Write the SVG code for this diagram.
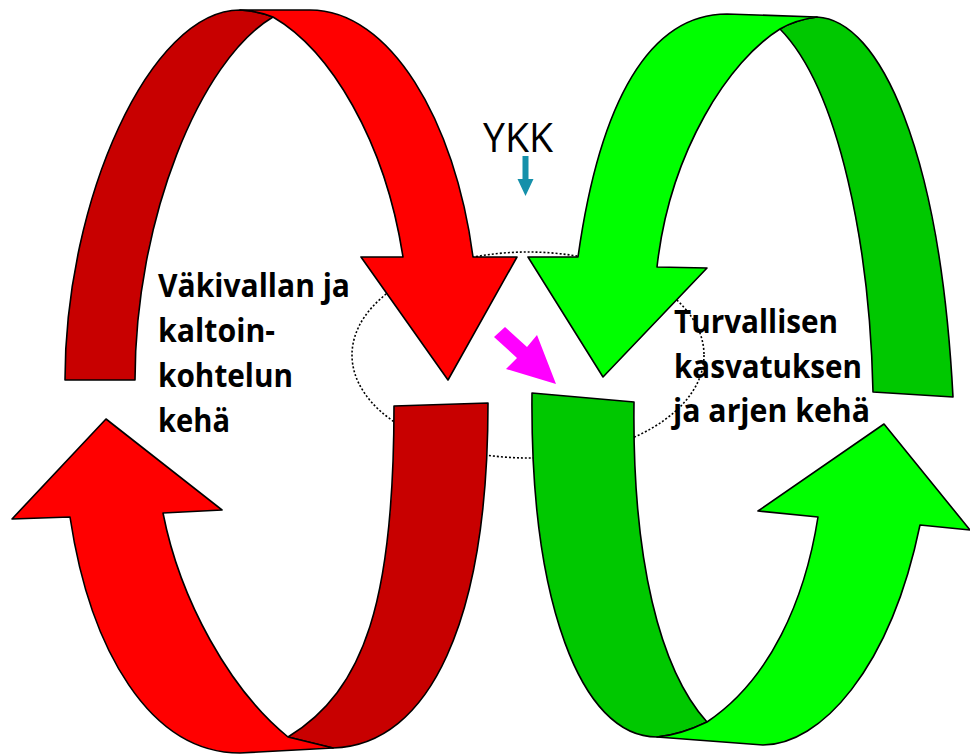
<svg xmlns="http://www.w3.org/2000/svg" width="970" height="755" viewBox="0 0 970 755">
<style>
.ol{stroke:#000;stroke-width:1.6;stroke-linejoin:round}
.r{fill:#FF0000}
.dr{fill:#C80000}
.g{fill:#00FF00}
.dg{fill:#00C800}
.lbl{font-family:"Open Sans","Noto Sans",sans-serif;font-weight:bold;font-size:32px;fill:#000}
</style>
<rect width="970" height="755" fill="#fff"/>
<g id="ring">
<ellipse cx="528" cy="355" rx="176" ry="103" fill="none" stroke="#000" stroke-width="1.6" stroke-dasharray="2 2"/>
</g>
<g id="red-loop">
<path class="ol dr" d="M65,380 C65,200 150,10 240,10 Q258,11 273,17 C200,60 135,220 135,380 Z"/>
<path class="ol r" d="M240,10 L310,10 C390,10 455,120 473,257 L517,257 L448,380 L361,257 L403,257 C385,140 330,50 273,17 Q258,11 240,10 Z"/>
<path class="ol dr" d="M394,406 L488,403 C488,620 430,745 333,748 L288,737 C365,690 394,600 394,406 Z"/>
<path class="ol r" d="M70,517 L12,519 L106,419 L222,510 L163,513 C180,600 230,690 288,737 L333,748 L240,753 C150,753 90,650 70,517 Z"/>
</g>
<g id="green-loop">
<path class="ol dg" d="M817,17 C880,20 940,150 953,397 L873,392 C870,250 840,90 780,29 Q795,20 817,17 Z"/>
<path class="ol g" d="M578,257 C600,100 650,14 727,14 L817,17 Q795,20 780,29 C730,60 670,150 657,267 L707,268 L603,377 L528,257 Z"/>
<path class="ol dg" d="M532,393 L634,402 C632,560 660,670 707,722 Q680,735 657,737 C580,737 530,600 532,393 Z"/>
<path class="ol g" d="M707,722 Q680,735 657,737 L763,745 C820,745 890,670 920,525 L970,530 L884,424 L758,511 L818,517 C805,600 770,680 707,722 Z"/>
</g>
<g id="label-left">
<text class="lbl" x="158" y="297" textLength="192" lengthAdjust="spacingAndGlyphs">Väkivallan ja</text>
<text class="lbl" x="158" y="342" textLength="117" lengthAdjust="spacingAndGlyphs">kaltoin-</text>
<text class="lbl" x="158" y="387" textLength="135" lengthAdjust="spacingAndGlyphs">kohtelun</text>
<text class="lbl" x="158" y="432" textLength="72" lengthAdjust="spacingAndGlyphs">kehä</text>
</g>
<g id="label-right">
<text class="lbl" x="674" y="333" textLength="164" lengthAdjust="spacingAndGlyphs">Turvallisen</text>
<text class="lbl" x="674" y="378" textLength="188" lengthAdjust="spacingAndGlyphs">kasvatuksen</text>
<text class="lbl" x="673" y="422" textLength="197" lengthAdjust="spacingAndGlyphs">ja arjen kehä</text>
</g>
<g id="transition-arrow">
<polygon fill="#FF00FF" points="494,337 505,327 527,347 537,335 556,384 506,369 517,358"/>
</g>
<g id="ykk">
<text x="483" y="152" font-family="'Open Sans','Noto Sans',sans-serif" font-size="40" fill="#000" textLength="70" lengthAdjust="spacingAndGlyphs">YKK</text>
<polygon fill="#1590AA" points="522.5,156 528.5,156 528.5,179 533.5,179 525.5,196 517.5,179 522.5,179"/>
</g>
</svg>
